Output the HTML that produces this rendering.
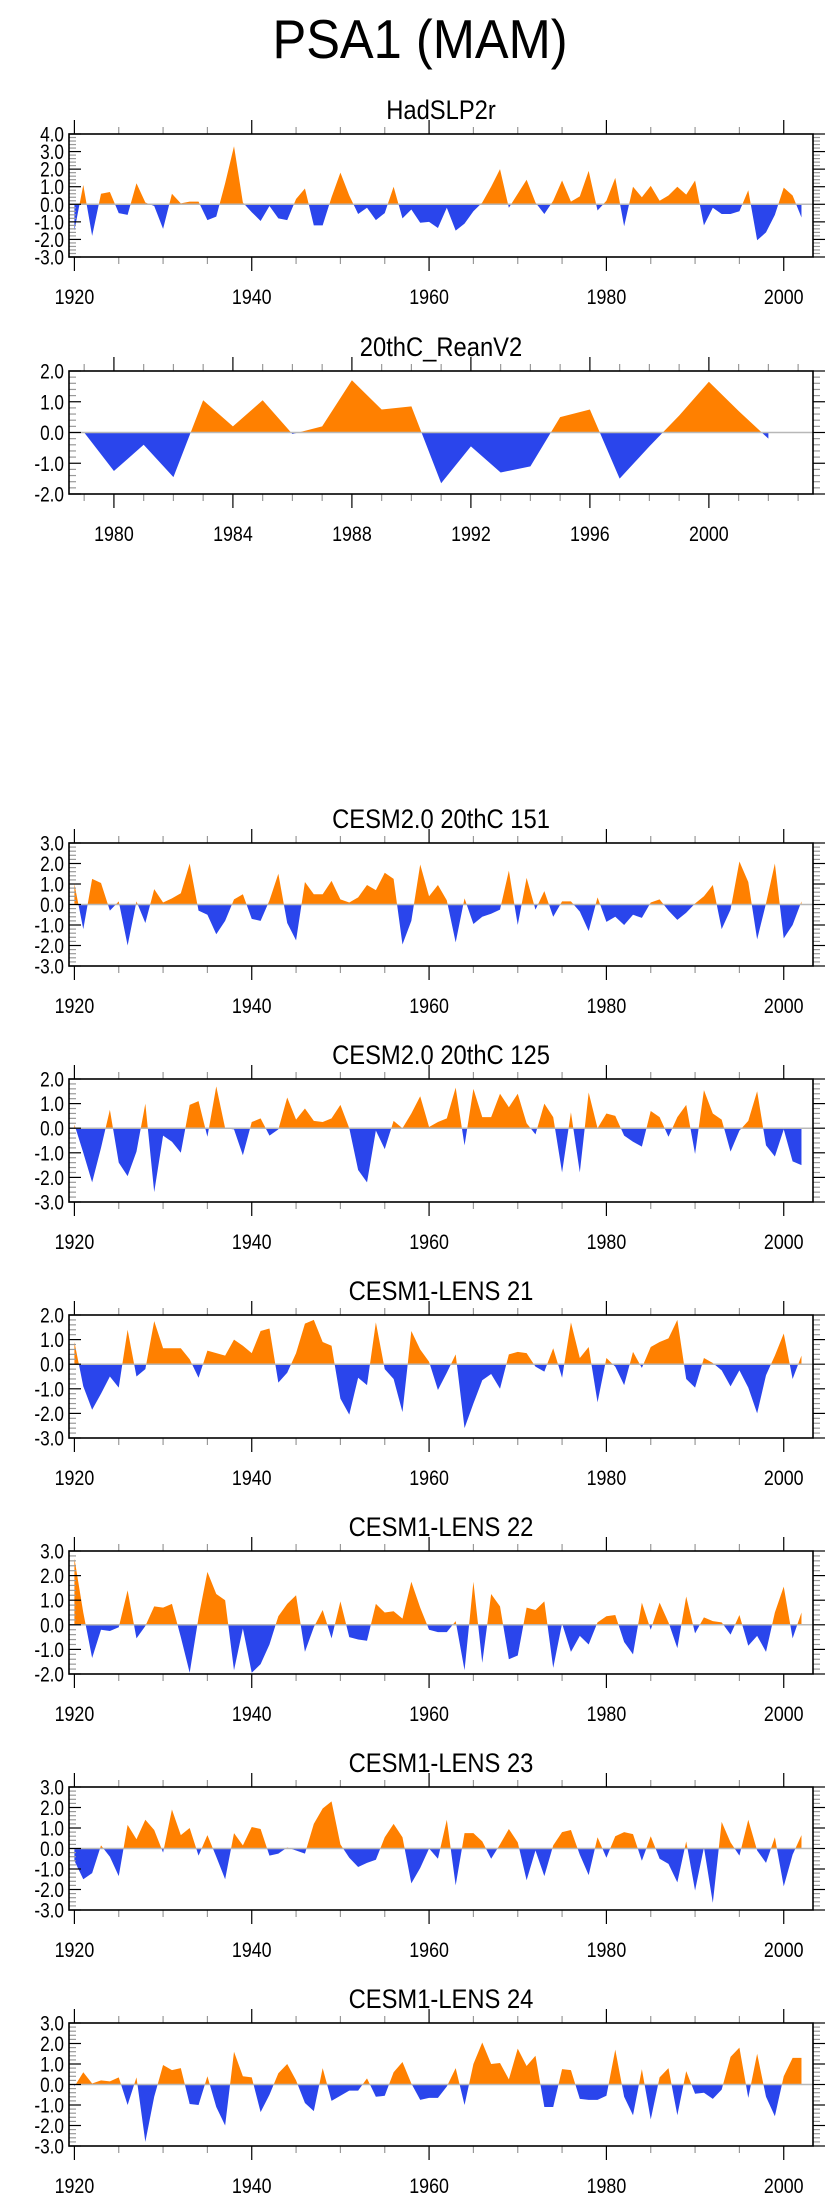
<!DOCTYPE html>
<html><head><meta charset="utf-8">
<style>
html,body{margin:0;padding:0;background:#fff;}
svg{display:block;font-family:"Liberation Sans",sans-serif;}
</style></head>
<body>
<svg id="fig" width="840" height="2200" viewBox="0 0 840 2200">
<text transform="translate(420,58) scale(0.92,1)" text-anchor="middle" font-size="55" fill="#000">PSA1 (MAM)</text>
</svg>
<script>
const yearsLong = Array.from({length:83},(_,i)=>1920+i);
const yearsRean = Array.from({length:24},(_,i)=>1979+i);
const xTicksLong = [1920,1940,1960,1980,2000];
const xTicksRean = [1980,1984,1988,1992,1996,2000];
const titles = ["HadSLP2r","20thC_ReanV2","CESM2.0 20thC 151","CESM2.0 20thC 125","CESM1-LENS 21","CESM1-LENS 22","CESM1-LENS 23","CESM1-LENS 24"];
const yMins = [-3,-2,-3,-3,-3,-2,-3,-3];
const yMaxs = [4,2,3,2,2,3,3,3];
const hadslp = [-1.5,1.1,-1.8,0.6,0.7,-0.5,-0.6,1.2,0.1,-0.1,-1.4,0.6,0.05,0.15,0.15,-0.9,-0.7,1.2,3.3,0.1,-0.45,-0.95,-0.1,-0.8,-0.9,0.3,0.9,-1.2,-1.2,0.4,1.8,0.5,-0.55,-0.2,-0.9,-0.5,1.0,-0.8,-0.3,-1.05,-1.0,-1.35,-0.2,-1.5,-1.1,-0.4,0.1,1.0,2.0,-0.2,0.6,1.4,0.1,-0.55,0.2,1.35,0.15,0.45,1.9,-0.35,0.2,1.5,-1.25,1.0,0.4,1.05,0.2,0.5,1.0,0.55,1.35,-1.2,-0.2,-0.55,-0.55,-0.4,0.8,-2.05,-1.6,-0.6,0.95,0.5,-0.75];
const rean = [0.0,-1.25,-0.4,-1.45,1.05,0.2,1.05,-0.05,0.2,1.7,0.75,0.85,-1.65,-0.45,-1.3,-1.1,0.5,0.75,-1.5,-0.45,0.55,1.65,0.7,-0.2];
const cesm2_151 = [1.0,-1.2,1.25,1.05,-0.3,0.15,-2.0,0.15,-0.9,0.75,0.1,0.3,0.55,2.0,-0.3,-0.5,-1.45,-0.8,0.25,0.5,-0.7,-0.8,0.2,1.5,-0.9,-1.75,1.1,0.5,0.5,1.15,0.25,0.1,0.35,0.95,0.7,1.55,1.25,-1.95,-0.8,1.95,0.4,0.95,0.2,-1.85,0.3,-0.95,-0.6,-0.45,-0.25,1.65,-1.0,1.3,-0.25,0.65,-0.6,0.15,0.15,-0.35,-1.3,0.35,-0.85,-0.6,-1.0,-0.5,-0.65,0.1,0.25,-0.3,-0.75,-0.4,0.05,0.4,0.95,-1.2,-0.25,2.1,1.1,-1.7,0.05,2.0,-1.65,-1.0,0.15];
const cesm2_125 = [0.15,-1.0,-2.2,-0.8,0.75,-1.4,-1.95,-0.95,1.0,-2.6,-0.3,-0.55,-1.0,0.95,1.1,-0.35,1.7,0.0,-0.05,-1.1,0.25,0.4,-0.3,-0.05,1.25,0.35,0.8,0.3,0.25,0.4,0.95,0.0,-1.7,-2.2,-0.1,-0.85,0.3,0.0,0.6,1.3,0.05,0.25,0.4,1.65,-0.7,1.6,0.45,0.45,1.4,0.85,1.4,0.2,-0.25,1.0,0.45,-1.8,0.65,-1.8,1.45,0.0,0.6,0.5,-0.3,-0.55,-0.75,0.7,0.45,-0.35,0.45,0.95,-1.05,1.55,0.6,0.35,-0.95,-0.1,0.3,1.5,-0.7,-1.15,-0.05,-1.35,-1.5];
const lens21 = [0.9,-0.9,-1.85,-1.2,-0.5,-0.95,1.4,-0.5,-0.2,1.75,0.65,0.65,0.65,0.2,-0.55,0.55,0.45,0.35,1.0,0.75,0.45,1.35,1.45,-0.75,-0.35,0.45,1.65,1.8,0.9,0.75,-1.4,-2.05,-0.55,-0.85,1.7,-0.2,-0.6,-1.95,1.35,0.6,0.1,-1.05,-0.35,0.4,-2.6,-1.6,-0.65,-0.4,-1.0,0.4,0.5,0.45,-0.1,-0.3,0.65,-0.55,1.7,0.25,0.7,-1.55,0.25,-0.1,-0.85,0.5,-0.15,0.7,0.9,1.05,1.8,-0.6,-0.95,0.25,0.05,-0.25,-0.9,-0.25,-0.95,-2.0,-0.45,0.35,1.25,-0.6,0.35];
const lens22 = [2.7,0.5,-1.35,-0.2,-0.25,-0.1,1.4,-0.55,-0.05,0.75,0.7,0.85,-0.5,-1.95,0.3,2.15,1.25,1.0,-1.85,-0.15,-1.95,-1.6,-0.8,0.35,0.85,1.2,-1.1,-0.1,0.6,-0.55,0.95,-0.5,-0.6,-0.65,0.85,0.5,0.55,0.25,1.75,0.7,-0.2,-0.3,-0.3,0.15,-1.85,1.75,-1.55,1.25,0.75,-1.4,-1.25,0.7,0.6,0.95,-1.75,0.05,-1.1,-0.45,-0.8,0.1,0.35,0.4,-0.7,-1.2,0.9,-0.2,0.9,0.1,-0.95,1.15,-0.35,0.3,0.15,0.1,-0.4,0.4,-0.85,-0.45,-1.1,0.5,1.55,-0.55,0.5];
const lens23 = [-0.6,-1.5,-1.2,0.15,-0.4,-1.35,1.15,0.45,1.4,0.9,-0.2,1.9,0.65,1.0,-0.35,0.65,-0.4,-1.5,0.75,0.15,1.05,0.95,-0.35,-0.25,0.05,-0.1,-0.25,1.2,1.95,2.3,0.2,-0.45,-0.9,-0.7,-0.55,0.55,1.2,0.55,-1.7,-0.95,0.0,-0.5,1.4,-1.8,0.75,0.75,0.35,-0.5,0.2,0.95,0.3,-1.55,-0.1,-1.35,0.15,0.8,0.9,-0.3,-1.3,0.55,-0.45,0.6,0.8,0.7,-0.6,0.6,-0.5,-0.75,-1.65,0.35,-2.05,0.05,-2.65,1.3,0.3,-0.35,1.4,-0.1,-0.7,0.55,-1.85,-0.3,0.65];
const lens24 = [-0.1,0.6,0.05,0.2,0.15,0.35,-1.0,0.35,-2.8,-0.6,0.95,0.7,0.8,-0.95,-1.0,0.4,-1.1,-2.0,1.6,0.4,0.35,-1.35,-0.5,0.55,1.0,0.2,-0.9,-1.3,0.8,-0.8,-0.55,-0.3,-0.3,0.3,-0.6,-0.55,0.6,1.1,0.05,-0.75,-0.65,-0.65,-0.1,0.8,-1.0,1.0,2.05,1.0,1.05,0.25,1.75,0.9,1.4,-1.1,-1.1,0.75,0.7,-0.7,-0.75,-0.75,-0.55,1.7,-0.6,-1.5,0.75,-1.7,0.35,0.8,-1.5,0.65,-0.45,-0.4,-0.7,-0.25,1.35,1.8,-0.65,1.5,-0.6,-1.55,0.4,1.3,1.3];

const seriesList=[hadslp,rean,cesm2_151,cesm2_125,lens21,lens22,lens23,lens24];
const frameTops=[134,371,843,1079,1315,1551,1787,2023];
const NS="http://www.w3.org/2000/svg";
const svg=document.getElementById('fig');
const L=69,R=813,H=123;
function mk(tag,attrs,parent){const e=document.createElementNS(NS,tag);for(const k in attrs)e.setAttribute(k,attrs[k]);(parent||svg).appendChild(e);return e;}
function txt(x,y,size,anchor,sx,parent){return mk('text',{transform:'translate('+x.toFixed(2)+','+y.toFixed(2)+') scale('+sx+',1)','text-anchor':anchor,'font-size':size,fill:'#000'},parent);}

seriesList.forEach((vals,p)=>{
  const isRean=(p===1);
  const years=isRean?yearsRean:yearsLong;
  const xmin=isRean?1978.49:1919.39, xmax=isRean?2003.5:2003.3;
  const ymin=yMins[p], ymax=yMaxs[p];
  const top=frameTops[p], bot=top+H;
  const xs=v=>L+(v-xmin)/(xmax-xmin)*(R-L);
  const ys=v=>bot-(v-ymin)/(ymax-ymin)*H;
  const g=mk('g',{});
  
  
  const t=txt(441,top-15,27,'middle',0.88,g);
  t.textContent=titles[p];
  
  
  const y0=ys(0);
  const cpU=mk('clipPath',{id:'cu'+p},g); mk('rect',{x:L,y:top,width:R-L,height:y0-top},cpU);
  const cpD=mk('clipPath',{id:'cd'+p},g); mk('rect',{x:L,y:y0,width:R-L,height:bot-y0},cpD);
  let pts=xs(years[0])+','+y0+' ';
  vals.forEach((v,i)=>{pts+=xs(years[i]).toFixed(2)+','+ys(v).toFixed(2)+' ';});
  pts+=xs(years[vals.length-1])+','+y0;
  const up=mk('polygon',{points:pts,fill:'#ff8000','clip-path':'url(#cu'+p+')'},g);
  
  
  const dn=mk('polygon',{points:pts,fill:'#2a45ec','clip-path':'url(#cd'+p+')'},g);
  
  
  const zl=mk('line',{x1:L,x2:R,y1:y0,y2:y0,stroke:'#b8b8b8','stroke-width':1.5},g);
  
  
  for(let k=Math.round(ymin*5);k<=Math.round(ymax*5);k++){
    const v=k/5, yy=ys(v), major=(k%5===0);
    mk('line',{x1:L,x2:L+(major?12:7),y1:yy,y2:yy,stroke:major?'#000':'#999','stroke-width':1.2},g);
    mk('line',{x1:R,x2:R+(major?12:7),y1:yy,y2:yy,stroke:major?'#000':'#999','stroke-width':1.2},g);
    if(major){
      const lab=txt(L-5,yy+7.5,21,'end',0.82,g);
      lab.textContent=v.toFixed(1);
      
      
    }
  }
  const step=isRean?1:5;
  const majStep=isRean?4:20;
  for(let yr=Math.ceil(xmin/step)*step; yr<=xmax; yr+=step){
    const xx=xs(yr), major=(yr%majStep===0);
    const len=major?14:7;
    mk('line',{x1:xx,x2:xx,y1:top,y2:top-len,stroke:major?'#000':'#999','stroke-width':1.2},g);
    mk('line',{x1:xx,x2:xx,y1:bot,y2:bot+len,stroke:major?'#000':'#999','stroke-width':1.2},g);
  }
  const tks=isRean?xTicksRean:xTicksLong;
  tks.forEach(yr=>{
    const lab=txt(xs(yr),bot+47,21,'middle',0.85,g);
    lab.textContent=yr;
    
    
  });
  const fr=mk('rect',{x:L,y:top,width:R-L,height:H,fill:'none',stroke:'#000','stroke-width':1.6},g);
  
  
});
</script>
</body></html>
